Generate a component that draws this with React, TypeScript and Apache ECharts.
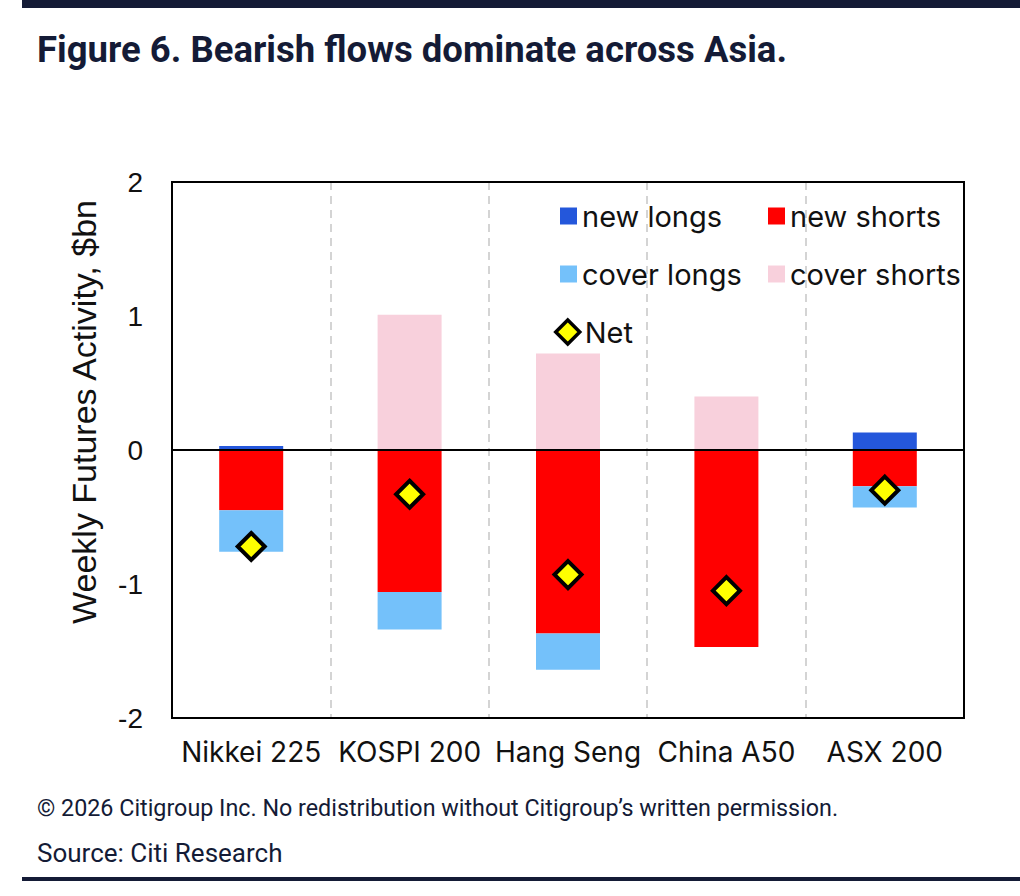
import React, { useEffect, useRef } from "react";
import * as echarts from "echarts";

const categories = ["Nikkei 225", "KOSPI 200", "Hang Seng", "China A50", "ASX 200"];
const newLongs = [0.03, 0, 0, 0, 0.13];
const newShorts = [-0.45, -1.06, -1.37, -1.47, -0.27];
const coverLongs = [-0.31, -0.28, -0.27, 0, -0.16];
const coverShorts = [0, 1.01, 0.72, 0.4, 0];
const net = [-0.72, -0.33, -0.93, -1.05, -0.3];
const yTicks = { min: -2, max: 2, interval: 1 };

const NAVY = "#141b36";
const LEGEND_FONT = "Inter, 'Noto Sans', sans-serif";

export default function App() {
  const ref = useRef<HTMLDivElement>(null);
  useEffect(() => {
    document.body.style.margin = "0";
    if (!ref.current) return;
    const chart = echarts.init(ref.current, null, { renderer: "svg" });
    const barBase = { type: "bar", stack: "flows", barWidth: 64 };
    const legendText = { fontFamily: LEGEND_FONT, fontSize: 29, color: "#111", lineHeight: 32 };
    chart.setOption({
      animation: false,
      backgroundColor: "#ffffff",
      title: {
        text: "Figure 6. Bearish flows dominate across Asia.",
        left: 32,
        top: 26,
        textStyle: { fontFamily: "Roboto, sans-serif", fontWeight: "bold", fontSize: 36.5, color: NAVY },
      },
      grid: { left: 172, right: 56, top: 182, bottom: 178, show: false },
      legend: [
        {
          orient: "vertical",
          left: 555,
          top: 195,
          itemWidth: 17,
          itemHeight: 17,
          itemGap: 26,
          data: [
            { name: "new longs", icon: "rect" },
            { name: "cover longs", icon: "rect" },
          ],
          textStyle: legendText,
        },
        {
          orient: "vertical",
          left: 549,
          top: 311,
          itemWidth: 24,
          itemHeight: 24,
          data: [
            { name: "Net", icon: "diamond", itemStyle: { color: "#ffff00", borderColor: "#000", borderWidth: 3.5 } },
          ],
          textStyle: legendText,
        },
        {
          orient: "vertical",
          left: 763,
          top: 195,
          itemWidth: 17,
          itemHeight: 17,
          itemGap: 26,
          data: [
            { name: "new shorts", icon: "rect" },
            { name: "cover shorts", icon: "rect" },
          ],
          textStyle: legendText,
        },
      ],
      xAxis: {
        type: "category",
        data: categories,
        axisLine: { show: false },
        axisTick: { show: false },
        axisLabel: { margin: 20, fontFamily: LEGEND_FONT, fontSize: 28, color: "#111", interval: 0 },
        splitLine: { show: true, interval: 0, lineStyle: { color: "#d4d4d4", width: 2, type: [8, 6] } },
      },
      yAxis: {
        type: "value",
        min: yTicks.min,
        max: yTicks.max,
        interval: yTicks.interval,
        axisLine: { show: false },
        axisTick: { show: false },
        splitLine: { show: false },
        axisLabel: { margin: 29, fontFamily: "'Liberation Sans', Arial, sans-serif", fontSize: 28, color: "#111" },
      },
      graphic: [
        { type: "rect", shape: { x: 22, y: 0, width: 998, height: 8 }, style: { fill: NAVY } },
        { type: "rect", shape: { x: 22, y: 877, width: 998, height: 4 }, style: { fill: NAVY } },
        {
          type: "rect",
          silent: true,
          z: 10,
          shape: { x: 172, y: 182, width: 792, height: 536 },
          style: { fill: "none", stroke: "#000", lineWidth: 2 },
        },
        {
          type: "text",
          x: 84,
          y: 412,
          rotation: Math.PI / 2,
          style: {
            text: "Weekly Futures Activity, $bn",
            fontFamily: "'Liberation Sans', Arial, sans-serif",
            fontSize: 34,
            fill: "#111",
            align: "center",
            verticalAlign: "middle",
          },
        },
        {
          type: "text",
          x: 37,
          y: 808,
          style: {
            text: "© 2026 Citigroup Inc. No redistribution without Citigroup’s written permission.",
            fontFamily: "Roboto, sans-serif",
            fontSize: 23.3,
            fill: NAVY,
            verticalAlign: "middle",
          },
        },
        {
          type: "text",
          x: 37,
          y: 853,
          style: {
            text: "Source: Citi Research",
            fontFamily: "Roboto, sans-serif",
            fontSize: 26,
            fill: NAVY,
            verticalAlign: "middle",
          },
        },
      ],
      series: [
        { ...barBase, name: "new longs", data: newLongs, itemStyle: { color: "#2457db" } },
        {
          ...barBase,
          name: "new shorts",
          data: newShorts,
          itemStyle: { color: "#ff0000" },
          markLine: {
            silent: true,
            symbol: "none",
            label: { show: false },
            lineStyle: { color: "#000", width: 2, type: "solid" },
            data: [{ yAxis: 0 }],
          },
        },
        { ...barBase, name: "cover longs", data: coverLongs, itemStyle: { color: "#74c1fa" } },
        { ...barBase, name: "cover shorts", data: coverShorts, itemStyle: { color: "#f8d0dc" } },
        {
          type: "scatter",
          name: "Net",
          data: net,
          symbol: "diamond",
          symbolSize: 27,
          z: 5,
          itemStyle: { color: "#ffff00", borderColor: "#000", borderWidth: 4, opacity: 1 },
        },
      ],
    });
    return () => chart.dispose();
  }, []);
  return <div ref={ref} style={{ width: 1020, height: 896 }} />;
}
